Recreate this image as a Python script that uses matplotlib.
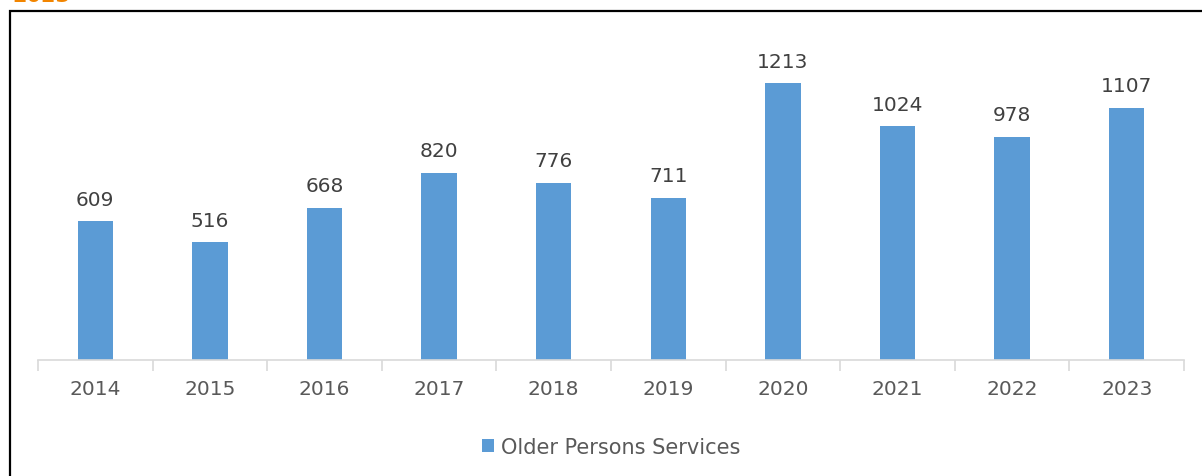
import matplotlib.pyplot as plt
from matplotlib.patches import Rectangle

years = ['2014', '2015', '2016', '2017', '2018', '2019', '2020', '2021', '2022', '2023']
services = [609, 516, 668, 820, 776, 711, 1213, 1024, 978, 1107]
series_name = 'Older Persons Services'

W, H = 1202, 477
fig = plt.figure(figsize=(W / 100, H / 100), dpi=100)

# outer frame (cut off at right and bottom)
fig.patches.append(Rectangle((10.5 / W, -0.1), 1.2, (H - 12) / H + 0.1,
                             transform=fig.transFigure, fill=False,
                             edgecolor='black', linewidth=1.6))
# heading sits mostly above the picture; only its bottom edge shows
fig.text(12 / W, 1 + 4 / H, '2023', color='#f28500', fontsize=15,
         fontweight='bold', ha='left', va='center')

ax = fig.add_axes([38 / W, (H - 361) / H, (1184 - 38) / W, (361 - 20) / H])
x = range(len(years))
bars = ax.bar(x, services, width=0.31, color='#5b9bd5', label=series_name)
for b in bars:
    ax.annotate('%d' % b.get_height(), (b.get_x() + b.get_width() / 2, b.get_height()),
                xytext=(0, 9), textcoords='offset points', ha='center', va='bottom',
                fontsize=14.5, color='#404040')

ax.set_xlim(-0.5, len(years) - 0.5)
ax.set_ylim(0, 1495)
ax.set_yticks([])
for s in ['top', 'right', 'left']:
    ax.spines[s].set_visible(False)
ax.spines['bottom'].set_color('#d9d9d9')
ax.spines['bottom'].set_linewidth(1.2)

ax.set_xticks([i - 0.5 for i in range(len(years) + 1)], minor=False)
ax.set_xticklabels([])
ax.tick_params(axis='x', which='major', length=8, color='#d9d9d9', width=1.2)
ax.set_xticks(list(x), minor=True)
ax.set_xticklabels(years, minor=True)
ax.tick_params(axis='x', which='minor', length=0, pad=14, labelsize=14.5,
               labelcolor='#595959')

ax.legend(loc='upper center', bbox_to_anchor=(0.5, -0.17), frameon=False,
          fontsize=15, labelcolor='#595959', handlelength=0.6, handleheight=0.6,
          handletextpad=0.3)

fig.savefig('out.png', dpi=100)
